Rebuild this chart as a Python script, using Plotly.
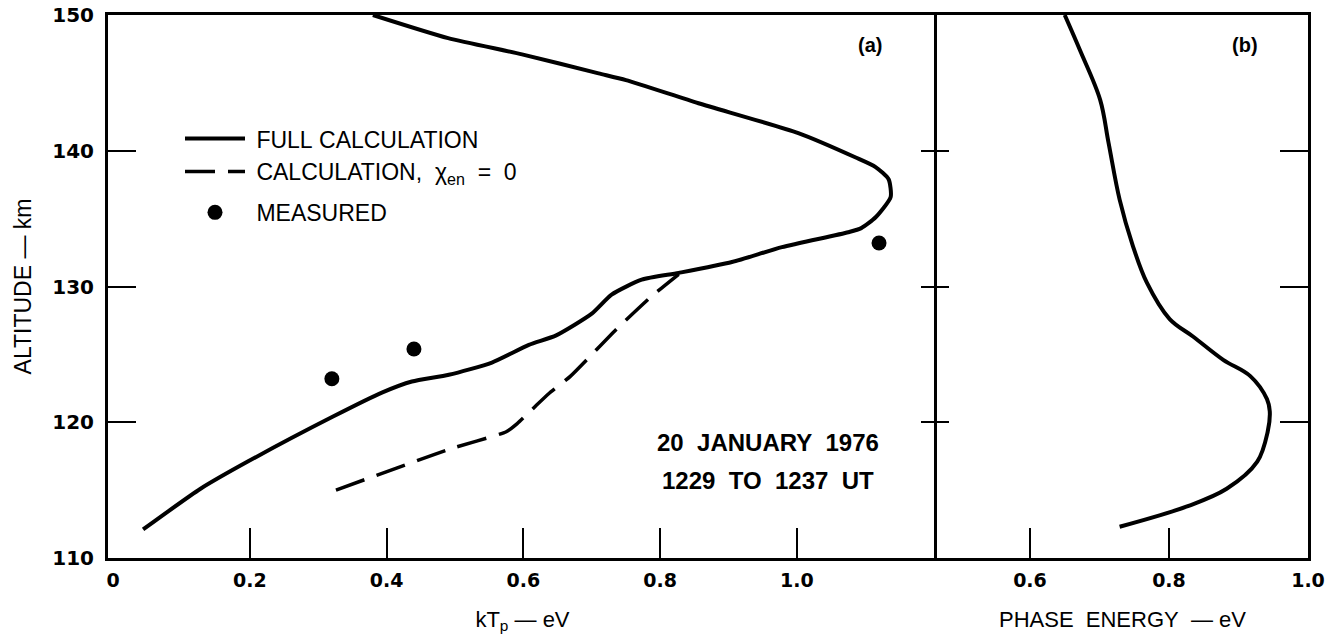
import plotly.graph_objects as go

# ---- data ----
# Panel (a): kT_p (eV) vs altitude (km)
full_x = [0.044, 0.128, 0.197, 0.321, 0.394, 0.437, 0.491, 0.554, 0.608, 0.648,
          0.700, 0.729, 0.773, 0.827, 0.905, 0.978, 1.075, 1.094, 1.115, 1.137,
          1.134, 1.115, 1.086, 1.002, 0.856, 0.750, 0.710, 0.598, 0.490, 0.380]
full_y = [112.1, 115.1, 117.1, 120.4, 122.2, 123.0, 123.5, 124.4, 125.7, 126.4,
          128.0, 129.4, 130.5, 131.0, 131.8, 132.9, 134.0, 134.3, 135.1, 136.6,
          137.9, 138.8, 139.5, 141.3, 143.5, 145.2, 145.7, 147.1, 148.3, 150.0]

dash_x = [0.326, 0.491, 0.575, 0.591, 0.618, 0.637, 0.669, 0.735, 0.788, 0.827]
dash_y = [115.0, 118.0, 119.3, 119.9, 121.2, 122.1, 123.4, 126.8, 129.3, 130.9]

meas_x = [0.320, 0.440, 1.120]
meas_y = [123.2, 125.4, 133.2]

# Panel (b): phase energy (eV) vs altitude (km)
phase_x = [0.729, 0.826, 0.883, 0.927, 0.942, 0.945, 0.941, 0.917, 0.878, 0.835,
           0.801, 0.768, 0.748, 0.729, 0.713, 0.701, 0.672, 0.650]
phase_y = [112.3, 113.8, 115.1, 117.1, 119.3, 120.8, 121.7, 123.4, 124.6, 126.3,
           127.6, 130.3, 133.0, 136.4, 140.6, 143.75, 147.4, 150.0]

y_ticks = [110, 120, 130, 140, 150]
xa_ticks = [0, 0.2, 0.4, 0.6, 0.8, 1.0]
xa_labels = ["0", "0.2", "0.4", "0.6", "0.8", "1.0"]
xb_ticks = [0.6, 0.8, 1.0]
xb_labels = ["0.6", "0.8", "1.0"]

NB = "\u00a0"
BLACK = "black"
TXT = "Liberation Sans, Arial, sans-serif"
NUM = "DejaVu Sans, sans-serif"

fig = go.Figure()
fig.add_trace(go.Scatter(x=full_x, y=full_y, mode="lines", name=NB + "FULL" + NB + "CALCULATION",
                         legendgroup="calc",
                         line=dict(color=BLACK, width=4, shape="spline", smoothing=0.6),
                         xaxis="x", yaxis="y"))
fig.add_trace(go.Scatter(x=dash_x, y=dash_y, mode="lines", legendgroup="calc",
                         name=NB + "CALCULATION," + NB * 2 + "χ<sub>en</sub>" + NB * 2 + "=" + NB * 2 + "0",
                         line=dict(color=BLACK, width=3.5, dash="30px,13px", shape="spline", smoothing=0.5),
                         xaxis="x", yaxis="y"))
fig.add_trace(go.Scatter(x=meas_x, y=meas_y, mode="markers", name=NB + "MEASURED",
                         legendgroup="meas",
                         marker=dict(color=BLACK, size=15),
                         xaxis="x", yaxis="y"))
fig.add_trace(go.Scatter(x=phase_x, y=phase_y, mode="lines", showlegend=False,
                         line=dict(color=BLACK, width=4, shape="spline", smoothing=1.0),
                         xaxis="x2", yaxis="y2"))
# empty traces so that the overlaying tick-only axes are drawn
for xa, ya in [("x3", "y"), ("x2", "y3"), ("x2", "y4")]:
    fig.add_trace(go.Scatter(x=[], y=[], mode="lines", showlegend=False, hoverinfo="skip",
                             xaxis=xa, yaxis=ya))

dom_a = [0.0, 0.6908]
dom_b = [0.6908, 1.0]
ra = [-0.0073, 1.2047]
rb = [0.4662, 1.0]
ry = [110, 150]

axline = dict(showline=True, linecolor=BLACK, linewidth=3, showgrid=False, zeroline=False,
              automargin=False)
noline = dict(showline=False, showgrid=False, zeroline=False, automargin=False)

fig.update_layout(
    width=1333, height=640,
    margin=dict(l=108, r=25, t=15, b=82),
    paper_bgcolor="white", plot_bgcolor="white",
    showlegend=True,
    legend=dict(x=0.06, y=0.812, xanchor="left", yanchor="top",
                font=dict(family=TXT, size=23, color=BLACK),
                bgcolor="rgba(0,0,0,0)", itemwidth=60,
                traceorder="grouped", tracegroupgap=8),
    xaxis=dict(domain=dom_a, range=ra, anchor="y", mirror=True,
               tickmode="array", tickvals=xa_ticks, ticktext=xa_labels, ticks="",
               ticklabelstandoff=3,
               tickfont=dict(family=NUM, size=19, color=BLACK, weight="bold"),
               title=dict(text="kT<sub>p</sub>" + NB + "—" + NB + "eV", standoff=22,
                          font=dict(family=TXT, size=22, color=BLACK)),
               **axline),
    xaxis3=dict(domain=dom_a, range=ra, anchor="y", overlaying="x",
                tickmode="array", tickvals=xa_ticks[1:], ticks="inside", ticklen=30,
                tickwidth=2, tickcolor=BLACK, showticklabels=False, **noline),
    xaxis2=dict(domain=dom_b, range=rb, anchor="y2", mirror=True,
                tickmode="array", tickvals=xb_ticks, ticktext=xb_labels,
                ticks="inside", ticklen=30, tickwidth=2, tickcolor=BLACK,
                ticklabelstandoff=3,
                tickfont=dict(family=NUM, size=19, color=BLACK, weight="bold"),
                title=dict(text="PHASE" + NB * 2 + "ENERGY" + NB * 2 + "—" + NB + "eV", standoff=22,
                           font=dict(family=TXT, size=22, color=BLACK)),
                **axline),
    yaxis=dict(domain=[0, 1], range=ry, anchor="x",
               tickmode="array", tickvals=y_ticks, ticks="inside", ticklen=28,
               tickwidth=2, tickcolor=BLACK, ticklabelstandoff=7,
               ticklabeloverflow="allow",
               tickfont=dict(family=NUM, size=20, color=BLACK, weight="bold"),
               title=dict(text="ALTITUDE" + NB + "—" + NB + "km", standoff=15,
                          font=dict(family=TXT, size=23, color=BLACK)),
               **axline),
    yaxis2=dict(domain=[0, 1], range=ry, anchor="x2",
                tickmode="array", tickvals=y_ticks[1:-1], ticks="outside", ticklen=13,
                tickwidth=2, tickcolor=BLACK, showticklabels=False, **axline),
    yaxis3=dict(domain=[0, 1], range=ry, anchor="x2", overlaying="y2", side="left",
                tickmode="array", tickvals=y_ticks[1:-1], ticks="inside", ticklen=12,
                tickwidth=2, tickcolor=BLACK, showticklabels=False, **noline),
    yaxis4=dict(domain=[0, 1], range=ry, anchor="x2", overlaying="y2", side="right",
                tickmode="array", tickvals=y_ticks[1:-1], ticks="inside", ticklen=28,
                tickwidth=2, tickcolor=BLACK, showticklabels=False, **axline),
)

ann_font = dict(family=TXT, size=24, color=BLACK, weight="bold")
fig.add_annotation(text="20" + NB * 2 + "JANUARY" + NB * 2 + "1976", xref="paper", yref="paper",
                   x=0.55, y=0.2136, xanchor="center", yanchor="middle", showarrow=False, font=ann_font)
fig.add_annotation(text="1229" + NB * 2 + "TO" + NB * 2 + "1237" + NB * 2 + "UT", xref="paper", yref="paper",
                   x=0.55, y=0.1436, xanchor="center", yanchor="middle", showarrow=False, font=ann_font)
fig.add_annotation(text="(a)", xref="paper", yref="paper", x=0.635, y=0.945,
                   xanchor="center", yanchor="middle", showarrow=False,
                   font=dict(family=TXT, size=20, color=BLACK, weight="bold"))
fig.add_annotation(text="(b)", xref="paper", yref="paper", x=0.9475, y=0.945,
                   xanchor="center", yanchor="middle", showarrow=False,
                   font=dict(family=TXT, size=20, color=BLACK, weight="bold"))

# remove the browser's default 8px body margin so the figure fills the window exactly
fig.write_html("out.html", config={"displayModeBar": False},
               post_script="document.body.style.margin='0px';")
